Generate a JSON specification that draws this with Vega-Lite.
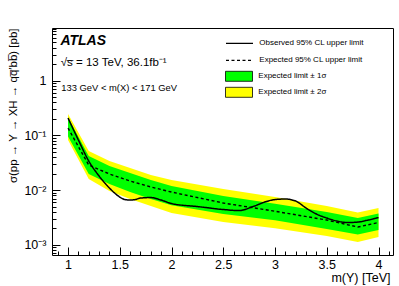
{
  "$schema": "https://vega.github.io/schema/vega-lite/v6.json",
  "width": 341,
  "height": 227,
  "autosize": "none",
  "padding": {"left": 52, "top": 28, "right": 6, "bottom": 31},
  "config": {
    "font": "Liberation Sans",
    "view": {"stroke": "#000", "strokeWidth": 1},
    "axis": {"domain": false, "grid": false, "labelFont": "Liberation Sans", "labelColor": "#000", "tickColor": "#000", "titleColor": "#000", "titleFont": "Liberation Sans", "titleFontWeight": "normal"},
    "legend": {"labelFont": "Liberation Sans", "labelColor": "#000"}
  },
  "datasets": {
    "band": [
      {"m": 1.0, "lo2": 0.0823, "lo1": 0.0954, "exp": 0.136, "hi1": 0.212, "hi2": 0.246},
      {"m": 1.2, "lo2": 0.0159, "lo1": 0.0197, "exp": 0.0287, "hi1": 0.0419, "hi2": 0.0518},
      {"m": 1.4, "lo2": 0.0096, "lo1": 0.0129, "exp": 0.0197, "hi1": 0.0275, "hi2": 0.034},
      {"m": 1.6, "lo2": 0.0069, "lo1": 0.0092, "exp": 0.0146, "hi1": 0.0205, "hi2": 0.0253},
      {"m": 1.8, "lo2": 0.0051, "lo1": 0.0069, "exp": 0.0114, "hi1": 0.0153, "hi2": 0.0188},
      {"m": 2.0, "lo2": 0.0038, "lo1": 0.0053, "exp": 0.0092, "hi1": 0.0119, "hi2": 0.0153},
      {"m": 2.5, "lo2": 0.0026, "lo1": 0.00365, "exp": 0.0058, "hi1": 0.0078, "hi2": 0.0105},
      {"m": 3.0, "lo2": 0.002, "lo1": 0.0028, "exp": 0.0041, "hi1": 0.0056, "hi2": 0.0075},
      {"m": 3.5, "lo2": 0.00144, "lo1": 0.00194, "exp": 0.00283, "hi1": 0.00397, "hi2": 0.00511},
      {"m": 3.8, "lo2": 0.00112, "lo1": 0.00154, "exp": 0.00211, "hi1": 0.00308, "hi2": 0.00388},
      {"m": 4.0, "lo2": 0.00138, "lo1": 0.00186, "exp": 0.00255, "hi1": 0.00372, "hi2": 0.00469}
    ],
    "obs": [
      {"m": 1.0, "obs": 0.2078},
      {"m": 1.1, "obs": 0.0823},
      {"m": 1.2, "obs": 0.034},
      {"m": 1.3, "obs": 0.01806},
      {"m": 1.4, "obs": 0.0109},
      {"m": 1.5, "obs": 0.00746},
      {"m": 1.55, "obs": 0.00671},
      {"m": 1.6, "obs": 0.00657},
      {"m": 1.65, "obs": 0.00671},
      {"m": 1.7, "obs": 0.00715},
      {"m": 1.8, "obs": 0.0073},
      {"m": 1.9, "obs": 0.00657},
      {"m": 2.0, "obs": 0.00567},
      {"m": 2.25, "obs": 0.005},
      {"m": 2.5, "obs": 0.00441},
      {"m": 2.65, "obs": 0.00422},
      {"m": 2.8, "obs": 0.00511},
      {"m": 2.9, "obs": 0.00604},
      {"m": 3.0, "obs": 0.00671},
      {"m": 3.1, "obs": 0.00686},
      {"m": 3.2, "obs": 0.0063},
      {"m": 3.3, "obs": 0.00469},
      {"m": 3.4, "obs": 0.00365},
      {"m": 3.5, "obs": 0.00308},
      {"m": 3.6, "obs": 0.00271},
      {"m": 3.7, "obs": 0.00255},
      {"m": 3.8, "obs": 0.0026},
      {"m": 3.9, "obs": 0.00283},
      {"m": 4.0, "obs": 0.00315}
    ],
    "notes": [
      {"m": 0.926, "v": 4.59, "t": "ATLAS", "kind": "atlas"},
      {"m": 0.93, "v": 1.82, "t": "√s̅ = 13 TeV, 36.1fb⁻¹", "kind": "energy"},
      {"m": 0.935, "v": 0.635, "t": "133 GeV < m(X) < 171 GeV", "kind": "mass"}
    ]
  },
  "encoding": {
    "x": {
      "field": "m", "type": "quantitative",
      "scale": {"domain": [0.845, 4.14], "nice": false, "zero": false},
      "axis": {
        "title": "m(Y) [TeV]",
        "values": [0.9, 1.0, 1.1, 1.2, 1.3, 1.4, 1.5, 1.6, 1.7, 1.8, 1.9, 2.0, 2.1, 2.2, 2.3, 2.4, 2.5, 2.6, 2.7, 2.8, 2.9, 3.0, 3.1, 3.2, 3.3, 3.4, 3.5, 3.6, 3.7, 3.8, 3.9, 4.0, 4.1],
        "labelExpr": "abs(datum.value*2 - round(datum.value*2)) < 0.001 ? format(datum.value, '~g') : ''",
        "tickSize": {"condition": {"test": "abs(datum.value*2 - round(datum.value*2)) < 0.001", "value": -8}, "value": -4},
        "labelFontSize": 12.5,
        "labelPadding": 11,
        "labelFlush": false,
        "labelOverlap": false,
        "titleFontSize": 12.5,
        "titleAnchor": "end",
        "titleAlign": "right",
        "titleBaseline": "alphabetic",
        "titleX": 338,
        "titleY": 26
      }
    }
  },
  "layer": [
    {
      "data": {"name": "band"},
      "mark": {"type": "area", "opacity": 1, "clip": true},
      "encoding": {
        "y": {
          "field": "lo2", "type": "quantitative",
          "scale": {"type": "log", "domain": [0.00065, 9.2], "nice": false},
          "axis": {
            "title": "σ(pp → Y → XH → qq̅′bb̅) [pb]",
            "values": [0.0007, 0.0008, 0.0009, 0.001, 0.002, 0.003, 0.004, 0.005, 0.006, 0.007, 0.008, 0.009, 0.01, 0.02, 0.03, 0.04, 0.05, 0.06, 0.07, 0.08, 0.09, 0.1, 0.2, 0.3, 0.4, 0.5, 0.6, 0.7, 0.8, 0.9, 1, 2, 3, 4, 5, 6, 7, 8, 9],
            "labelExpr": "abs(datum.value - 1) < 1e-9 ? '1' : abs(datum.value - 0.1) < 1e-9 ? '10⁻¹' : abs(datum.value - 0.01) < 1e-9 ? '10⁻²' : abs(datum.value - 0.001) < 1e-9 ? '10⁻³' : ''",
            "tickSize": {"condition": {"test": "abs(log(datum.value)/LN10 - round(log(datum.value)/LN10)) < 0.001", "value": -8}, "value": -4},
            "labelFontSize": 12.5,
            "labelPadding": 14,
            "labelFlush": false,
            "labelOverlap": false,
            "titleFontSize": 11.5,
            "titleAnchor": "end",
            "titleAlign": "right",
            "titleAngle": -90,
            "titleBaseline": "alphabetic",
            "titleX": -36,
            "titleY": 0
          }
        },
        "y2": {"field": "hi2"},
        "fill": {
          "datum": "Expected limit ± 2σ",
          "scale": {"domain": ["Expected limit ± 1σ", "Expected limit ± 2σ"], "range": ["#00ff00", "#ffff00"]},
          "legend": {
            "title": null, "orient": "none", "legendX": 181.5, "legendY": 42.8,
            "symbolType": "M-2.7,-1H2.7V1H-2.7Z", "symbolSize": 100,
            "symbolStrokeColor": "#000", "symbolStrokeWidth": 0.8, "symbolOpacity": 1,
            "labelFontSize": 8, "labelOffset": 13.8, "rowPadding": 1, "padding": 0
          }
        }
      }
    },
    {
      "data": {"name": "band"},
      "mark": {"type": "area", "opacity": 1, "clip": true},
      "encoding": {
        "y": {"field": "lo1", "type": "quantitative"},
        "y2": {"field": "hi1"},
        "fill": {"datum": "Expected limit ± 1σ"}
      }
    },
    {
      "data": {"name": "band"},
      "mark": {"type": "line", "color": "#000", "strokeWidth": 1.4, "clip": true},
      "encoding": {
        "y": {"field": "exp", "type": "quantitative"},
        "strokeDash": {
          "datum": "Expected 95% CL upper limit",
          "scale": {"domain": ["Observed 95% CL upper limit", "Expected 95% CL upper limit"], "range": [[1, 0], [3, 2.5]]},
          "legend": {
            "title": null, "orient": "none", "legendX": 181.5, "legendY": 9.3,
            "symbolType": "M-2.7,0H2.7", "symbolSize": 100,
            "symbolStrokeColor": "#000", "symbolStrokeWidth": 1.3,
            "labelFontSize": 8, "labelOffset": 13.8, "rowPadding": 7, "padding": 0
          }
        }
      }
    },
    {
      "data": {"name": "obs"},
      "mark": {"type": "line", "color": "#000", "strokeWidth": 1.5, "interpolate": "monotone", "clip": true},
      "encoding": {
        "y": {"field": "obs", "type": "quantitative"},
        "strokeDash": {"datum": "Observed 95% CL upper limit"}
      }
    },
    {
      "data": {"name": "notes"},
      "transform": [{"filter": "datum.kind == 'atlas'"}],
      "mark": {"type": "text", "align": "left", "baseline": "alphabetic", "fontSize": 14, "fontWeight": "bold", "fontStyle": "italic", "color": "#000"},
      "encoding": {"y": {"field": "v", "type": "quantitative"}, "text": {"field": "t"}}
    },
    {
      "data": {"name": "notes"},
      "transform": [{"filter": "datum.kind == 'energy'"}],
      "mark": {"type": "text", "align": "left", "baseline": "alphabetic", "fontSize": 11.5, "color": "#000"},
      "encoding": {"y": {"field": "v", "type": "quantitative"}, "text": {"field": "t"}}
    },
    {
      "data": {"name": "notes"},
      "transform": [{"filter": "datum.kind == 'mass'"}],
      "mark": {"type": "text", "align": "left", "baseline": "alphabetic", "fontSize": 9.4, "color": "#000"},
      "encoding": {"y": {"field": "v", "type": "quantitative"}, "text": {"field": "t"}}
    }
  ]
}
